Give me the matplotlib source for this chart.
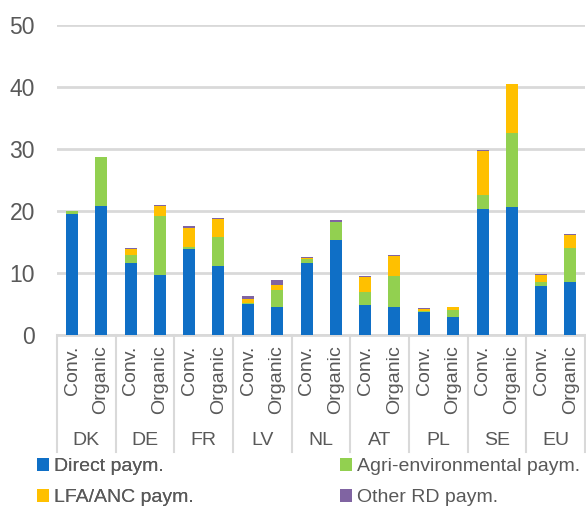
import numpy as np
import matplotlib
matplotlib.use("Agg")
import matplotlib.pyplot as plt
from matplotlib.patches import Patch
from matplotlib.transforms import blended_transform_factory

plt.rcParams['font.family'] = ['Liberation Sans Narrow', 'Liberation Sans', 'DejaVu Sans']

# data (EUR per ...)
countries = ['DK', 'DE', 'FR', 'LV', 'NL', 'AT', 'PL', 'SE', 'EU']
farm_types = ['Conv.', 'Organic']

direct_conv = [19.5, 11.6, 13.8, 5.0, 11.6, 4.8, 3.7, 20.2, 7.9]
direct_org = [20.7, 9.6, 11.0, 4.5, 15.3, 4.5, 2.8, 20.6, 8.5]
agri_conv = [0.4, 1.3, 0.3, 0.1, 0.65, 2.1, 0.05, 2.4, 0.65]
agri_org = [8.0, 9.6, 4.8, 2.7, 2.8, 5.0, 1.2, 12.0, 5.55]
lfa_conv = [0.0, 0.9, 3.1, 0.7, 0.05, 2.45, 0.45, 7.1, 1.05]
lfa_org = [0.0, 1.6, 2.8, 0.75, 0.1, 3.25, 0.4, 7.8, 2.1]
other_conv = [0.05, 0.2, 0.4, 0.35, 0.25, 0.1, 0.1, 0.05, 0.15]
other_org = [0.05, 0.15, 0.25, 0.85, 0.3, 0.1, 0.1, 0.05, 0.15]

series_names = ['Direct paym.', 'Agri-environmental paym.', 'LFA/ANC paym.', 'Other RD paym.']
colors = ['#0F6FC6', '#92D050', '#FFC000', '#8064A2']
text_col = '#595959'
grid_col = '#D9D9D9'

conv = [direct_conv, agri_conv, lfa_conv, other_conv]
org = [direct_org, agri_org, lfa_org, other_org]

fig = plt.figure(figsize=(5.86, 5.08), dpi=100)
ax = fig.add_axes([0.0973, 0.3415, 0.9010, 0.6093])

idx = np.arange(len(countries))
x_conv = idx + 0.256
x_org = idx + 0.75
width = 0.205

for xs, data in [(x_conv, conv), (x_org, org)]:
    bottom = np.zeros(len(countries))
    for vals, c in zip(data, colors):
        vals = np.array(vals)
        ax.bar(xs, vals, width, bottom=bottom, color=c, linewidth=0, zorder=3)
        bottom += vals

ax.set_xlim(0, 9)
ax.set_ylim(0, 50)
ax.set_yticks([0, 10, 20, 30, 40, 50])
ax.yaxis.grid(True, color=grid_col, linewidth=2)
ax.set_axisbelow(True)
ax.set_xticks([])
ax.tick_params(axis='y', length=0, pad=16, labelsize=16.5, labelcolor=text_col)
for s in ['top', 'right', 'left']:
    ax.spines[s].set_visible(False)
ax.spines['bottom'].set_color(grid_col)
ax.spines['bottom'].set_linewidth(2)

# category axis: farm types, countries, dividers
fs = 14
trans = blended_transform_factory(ax.transData, ax.transAxes)
for i, name in enumerate(countries):
    ax.text(x_conv[i], -0.035, farm_types[0], rotation=90, ha='center', va='top',
            fontsize=fs, color=text_col, transform=trans)
    ax.text(x_org[i], -0.035, farm_types[1], rotation=90, ha='center', va='top',
            fontsize=fs, color=text_col, transform=trans)
    ax.text(i + 0.5, -0.344, name, ha='center', va='center',
            fontsize=fs, color=text_col, transform=trans)
for b in range(len(countries) + 1):
    ax.plot([b, b], [0, -0.38], color=grid_col, linewidth=1.5,
            transform=trans, clip_on=False)

# legend, two columns
handles = [Patch(facecolor=c, edgecolor='none') for c in colors]
leg_kw = dict(frameon=False, fontsize=fs, handlelength=0.62, handleheight=0.62,
              handletextpad=0.25, labelspacing=0.72, borderpad=0, borderaxespad=0,
              labelcolor=text_col, loc='upper left')
leg1 = fig.legend([handles[0], handles[2]], [series_names[0], series_names[2]],
                  bbox_to_anchor=(37 / 586, 1 - 458 / 508), **leg_kw)
fig.add_artist(leg1)
fig.legend([handles[1], handles[3]], [series_names[1], series_names[3]],
           bbox_to_anchor=(340 / 586, 1 - 458 / 508), **leg_kw)

fig.savefig('out.png', dpi=100)
